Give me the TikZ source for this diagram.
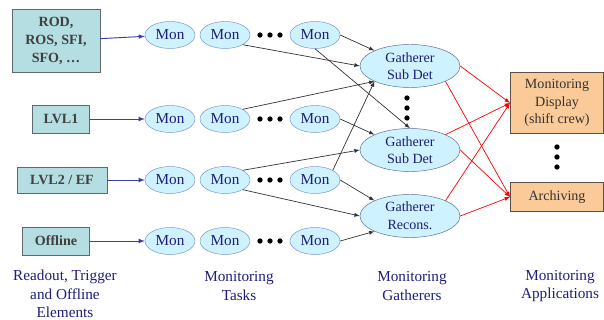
\documentclass[tikz,border=0pt]{standalone}
\usepackage{fontspec}
\setmainfont{Liberation Serif}
\usepackage{tikz}
\usetikzlibrary{shapes.geometric}
\tikzset{>=latex}

\definecolor{srcfill}{RGB}{180,222,226}
\definecolor{srcdraw}{RGB}{95,105,105}
\definecolor{monfill}{RGB}{206,242,255}
\definecolor{mondraw}{RGB}{120,150,205}
\definecolor{montext}{RGB}{30,30,120}
\definecolor{appfill}{RGB}{250,202,152}
\definecolor{appdraw}{RGB}{90,80,70}
\definecolor{feedblue}{RGB}{60,60,170}

\tikzset{
  srcbox/.style={draw=srcdraw, fill=srcfill, thick, align=center,
    inner sep=0pt, font=\fontsize{12}{15}\selectfont\bfseries, text=black!75},
  monnode/.style={ellipse, draw=mondraw, fill=monfill, inner sep=0pt,
    minimum width=1.5cm, minimum height=0.81cm, text=montext,
    font=\fontsize{13}{14}\selectfont},
  gathnode/.style={ellipse, draw=mondraw!70!black, fill=monfill, inner sep=0pt,
    minimum width=3cm, minimum height=1.29cm, align=center, text=montext,
    font=\fontsize{12}{15}\selectfont},
  appbox/.style={draw=appdraw, fill=appfill, thick, align=center, inner sep=0pt,
    minimum width=2.79cm, font=\fontsize{12}{15}\selectfont, text=black!80},
  caption/.style={align=center, text=montext, font=\fontsize{13}{16}\selectfont},
  feed/.style={->, feedblue, thick},
  collect/.style={->, black!80, semithick},
  publish/.style={->, red, semithick},
  dot/.style={circle, fill=black, inner sep=0pt, minimum size=4.5pt},
}

\begin{document}
\begin{tikzpicture}[x=0.03cm, y=-0.03cm]
  \useasboundingbox (0,0) rectangle (604,320);

  % START: Sources ---------------------------------
  \node[srcbox, minimum width=2.64cm, minimum height=1.89cm] (rod) at (56,41)
    {ROD,\\ROS, SFI,\\SFO, \dots};
  \node[srcbox, minimum width=1.71cm, minimum height=0.84cm] (lvl1) at (61,119) {LVL1};
  \node[srcbox, minimum width=2.7cm, minimum height=0.78cm] (lvl2) at (62,180) {LVL2 / EF};
  \node[srcbox, minimum width=2.01cm, minimum height=0.84cm] (offl) at (56,241) {Offline};
  % END: Sources -----------------------------------

  % START: Monitoring tasks ------------------------
  % Row 1
  \node[monnode] (m1_1) at (170,35) {Mon};
  \node[monnode] (m1_2) at (225,35) {Mon};
  \node[monnode] (m1_3) at (315,35) {Mon};
  % Row 2
  \node[monnode] (m2_1) at (170,119) {Mon};
  \node[monnode] (m2_2) at (225,119) {Mon};
  \node[monnode] (m2_3) at (315,119) {Mon};
  % Row 3
  \node[monnode] (m3_1) at (170,180) {Mon};
  \node[monnode] (m3_2) at (225,180) {Mon};
  \node[monnode] (m3_3) at (315,180) {Mon};
  % Row 4
  \node[monnode] (m4_1) at (170,241) {Mon};
  \node[monnode] (m4_2) at (225,241) {Mon};
  \node[monnode] (m4_3) at (315,241) {Mon};
  % dots
  \foreach \y/\r in {35/1,119/2,180/3,241/4}
    \foreach \x/\c in {260/a,270/b,280/c}
      \node[dot] (d\r\c) at (\x,\y) {};
  % END: Monitoring tasks --------------------------

  % START: Gatherers -------------------------------
  \node[gathnode] (g1) at (410,66) {Gatherer\\Sub Det};
  \node[gathnode] (g2) at (410,150) {Gatherer\\Sub Det};
  \node[gathnode] (g3) at (410,216) {Gatherer\\Recons.};
  \node[dot] (gd1) at (407,98) {};
  \node[dot] (gd2) at (407,108) {};
  \node[dot] (gd3) at (407,118) {};
  % END: Gatherers ---------------------------------

  % START: Applications ----------------------------
  \node[appbox, minimum height=1.83cm] (disp) at (557,103)
    {Monitoring\\Display\\(shift crew)};
  \node[appbox, minimum height=0.87cm] (arch) at (557,197) {Archiving};
  \node[dot] (ad1) at (557,147) {};
  \node[dot] (ad2) at (557,157) {};
  \node[dot] (ad3) at (557,167) {};
  % END: Applications ------------------------------

  % START: Captions --------------------------------
  \node[caption] (c_src) at (65,294) {Readout, Trigger\\and Offline\\Elements};
  \node[caption] (c_mon) at (239,286) {Monitoring\\Tasks};
  \node[caption] (c_gat) at (412,286) {Monitoring\\Gatherers};
  \node[caption] (c_app) at (560,286) {Monitoring\\Applications};
  % END: Captions ----------------------------------

  % sources to tasks
  \draw[feed] (rod) -- (m1_1);
  \draw[feed] (lvl1) -- (m2_1);
  \draw[feed] (lvl2) -- (m3_1);
  \draw[feed] (offl) -- (m4_1);

  % tasks to gatherers
  \draw[collect] (m1_2.south east) -- (g1.west);
  \draw[collect] (m1_3.east) -- (g1.north west);
  \draw[collect] (m1_3.south) -- (g2.north);
  \draw[collect] (m2_2.north east) -- (g1.south west);
  \draw[collect] (m3_3.north east) -- (g1.south west);
  \draw[collect] (m2_3.east) -- (g2.north west);
  \draw[collect] (m3_2.north east) -- (g2.west);
  \draw[collect] (m3_2.south east) -- (g3.west);
  \draw[collect] (m3_3.east) -- (g3.north west);
  \draw[collect] (m4_3.east) -- (g3.south west);

  % gatherers to applications
  \draw[publish] (g1.east) -- (disp.west);
  \draw[publish] (g1.south east) -- (arch.west);
  \draw[publish] (g2.north east) -- (disp.west);
  \draw[publish] (g2.east) -- (arch.west);
  \draw[publish] (g3.north east) -- (disp.west);
  \draw[publish] (g3.east) -- (arch.west);
\end{tikzpicture}
\end{document}
